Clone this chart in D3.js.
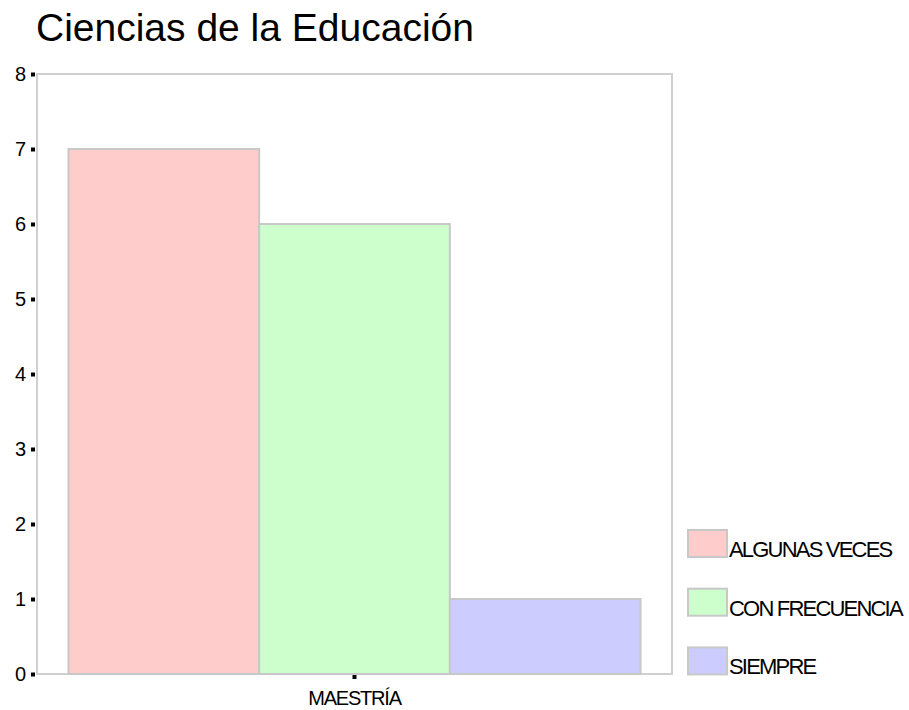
<!DOCTYPE html>
<html>
<head>
<meta charset="utf-8">
<script src="https://cdn.jsdelivr.net/npm/d3@7"></script>
<style>
  body { margin: 0; background: #fff; }
  text { font-family: "Liberation Sans", Arial, sans-serif; }
</style>
</head>
<body>
<div id="chart"></div>
<script>
// Data
let categories = ["MAESTRÍA"];
let series = ["ALGUNAS VECES", "CON FRECUENCIA", "SIEMPRE"];
let values = [7, 6, 1];
let y_ticks = [0, 1, 2, 3, 4, 5, 6, 7, 8];
let colors = ["#ffcccc", "#ccffcc", "#ccccff"];

let width = 909;
let height = 710;
let margin = {top: 74, right: 237, bottom: 36, left: 37};

let svg = d3.select("#chart")
            .append("svg")
            .attr("width", width)
            .attr("height", height);

let x0 = d3.scaleBand()
           .domain(categories)
           .range([margin.left, width - margin.right])
           .paddingInner(0)
           .paddingOuter(0.055);

let x1 = d3.scaleBand()
           .domain(series)
           .range([0, x0.bandwidth()]);

let y = d3.scaleLinear()
          .domain([0, 8])
          .range([height - margin.bottom, margin.top]);

// plot frame
svg.append("rect")
   .attr("x", margin.left)
   .attr("y", margin.top)
   .attr("width", width - margin.right - margin.left)
   .attr("height", height - margin.bottom - margin.top)
   .style("fill", "none")
   .style("stroke", "#d0d0d0")
   .style("stroke-width", 2);

// bars
svg.append("g")
   .selectAll("rect")
   .data(values)
   .join("rect")
   .attr("x", (d, i) => x0(categories[0]) + x1(series[i]))
   .attr("y", d => y(d))
   .attr("width", x1.bandwidth())
   .attr("height", d => y(0) - y(d))
   .style("fill", (d, i) => colors[i])
   .style("stroke", "#c8c8c8")
   .style("stroke-width", 2);

// y axis
let yAxis = svg.append("g")
   .attr("transform", "translate(" + margin.left + ",0)")
   .call(d3.axisLeft(y).tickValues(y_ticks).tickSize(0).tickPadding(11))
   .call(g => g.select(".domain").remove());
yAxis.selectAll("text")
   .style("font-size", "20px")
   .attr("fill", "#000");
yAxis.selectAll(".tick")
   .append("rect")
   .attr("x", -6)
   .attr("y", -2)
   .attr("width", 4)
   .attr("height", 4)
   .attr("fill", "#000");

// x axis
let xAxis = svg.append("g")
   .attr("transform", "translate(0," + (height - margin.bottom) + ")")
   .call(d3.axisBottom(x0).tickSize(0).tickPadding(17))
   .call(g => g.select(".domain").remove());
xAxis.selectAll("text")
   .style("font-size", "20px")
   .style("letter-spacing", "-1.2px")
   .attr("fill", "#000");
xAxis.selectAll(".tick")
   .append("rect")
   .attr("x", -2)
   .attr("y", 1)
   .attr("width", 4)
   .attr("height", 4)
   .attr("fill", "#000");

// title
svg.append("text")
   .attr("x", 36)
   .attr("y", 41)
   .style("font-size", "39px")
   .text("Ciencias de la Educación");

// legend
let legend = svg.selectAll(".legend")
   .data(series)
   .enter().append("g")
   .attr("class", "legend")
   .attr("transform", (d, i) => "translate(688," + (530 + i * 58.7) + ")");

legend.append("rect")
   .attr("width", 39)
   .attr("height", 27)
   .style("fill", (d, i) => colors[i])
   .style("stroke", "#c8c8c8")
   .style("stroke-width", 2);

legend.append("text")
   .attr("x", 41)
   .attr("y", 27)
   .style("font-size", "22px")
   .style("letter-spacing", "-1.8px")
   .text(d => d);
</script>
</body>
</html>
